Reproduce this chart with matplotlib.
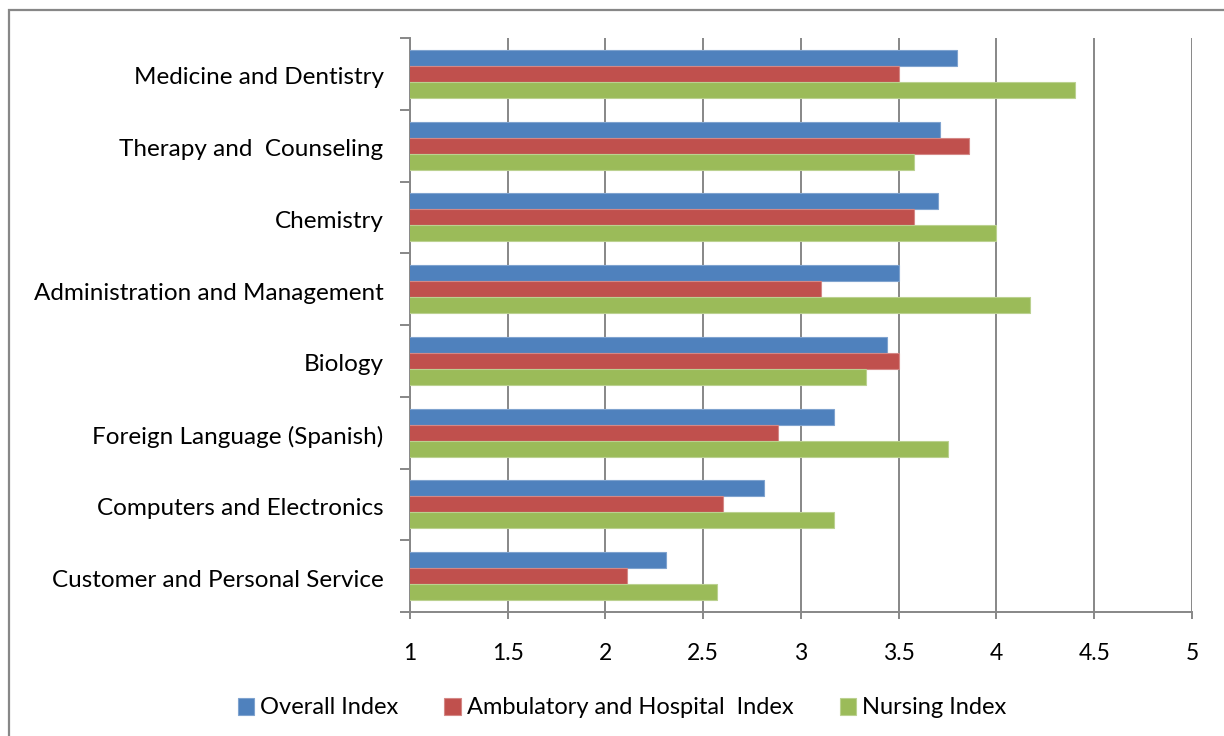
import numpy as np
import matplotlib
matplotlib.use("Agg")
import matplotlib.pyplot as plt
from matplotlib.patches import Rectangle

categories = [
    "Medicine and Dentistry",
    "Therapy and  Counseling",
    "Chemistry",
    "Administration and Management",
    "Biology",
    "Foreign Language (Spanish)",
    "Computers and Electronics",
    "Customer and Personal Service",
]
overall = [3.80, 3.71, 3.70, 3.50, 3.44, 3.17, 2.81, 2.31]
ambulatory = [3.50, 3.86, 3.58, 3.10, 3.50, 2.88, 2.60, 2.11]
nursing = [4.40, 3.58, 4.00, 4.17, 3.33, 3.75, 3.17, 2.57]
series_names = ["Overall Index", "Ambulatory and Hospital  Index", "Nursing Index"]
colors = ["#4F81BD", "#C0504D", "#9BBB59"]
edges = ["#7FA3CF", "#D48886", "#BBD190"]
xticks = [1, 1.5, 2, 2.5, 3, 3.5, 4, 4.5, 5]

plt.rcParams["font.family"] = ["Lato", "DejaVu Sans"]
grey = "#878787"

fig = plt.figure(figsize=(12.24, 7.36), dpi=100)
ax = fig.add_axes([410 / 1224, 124 / 736, 782 / 1224, 574 / 736])

y = np.arange(len(categories))
h = 16 / 72
for k, vals in enumerate([overall, ambulatory, nursing]):
    ax.barh(y + (k - 1) * h, vals, height=h, color=colors[k],
            edgecolor=edges[k], linewidth=0.8, label=series_names[k], zorder=3)

ax.set_xlim(1, 5)
ax.set_ylim(len(categories) - 0.5, -0.5)
ax.set_xticks(xticks)
ax.set_xticklabels([f"{t:g}" for t in xticks], fontsize=16.5)
ax.grid(axis="x", color=grey, linewidth=1.4, zorder=0)

# category labels centred, tick marks on category boundaries
ax.set_yticks(y)
ax.set_yticklabels(categories, fontsize=17.5)
ax.set_yticks(np.arange(len(categories) + 1) - 0.5, minor=True)
ax.tick_params(axis="y", which="major", length=0, pad=19)
ax.tick_params(axis="y", which="minor", length=7, width=1.4, color=grey)
ax.tick_params(axis="x", length=5, width=1.4, color=grey, pad=17)
for lab in ax.get_yticklabels():
    lab.set_transform(lab.get_transform() + matplotlib.transforms.ScaledTranslation(0, -2 / 100, fig.dpi_scale_trans))

for side in ["top", "right"]:
    ax.spines[side].set_visible(False)
for side in ["left", "bottom"]:
    ax.spines[side].set_color(grey)
    ax.spines[side].set_linewidth(1.4)

leg = fig.legend(loc="center", bbox_to_anchor=(622 / 1224, 1 - 708 / 736),
                 ncol=3, frameon=False, fontsize=17, handlelength=0.7,
                 handleheight=0.7, handletextpad=0.25, columnspacing=1.95)

# outer chart border
fig.patches.append(Rectangle((9 / 1224, -0.05), 1.1, 1 - 10 / 736 + 0.05,
                             transform=fig.transFigure, fill=False,
                             edgecolor=grey, linewidth=1.6))

fig.savefig("out.png", dpi=100)
